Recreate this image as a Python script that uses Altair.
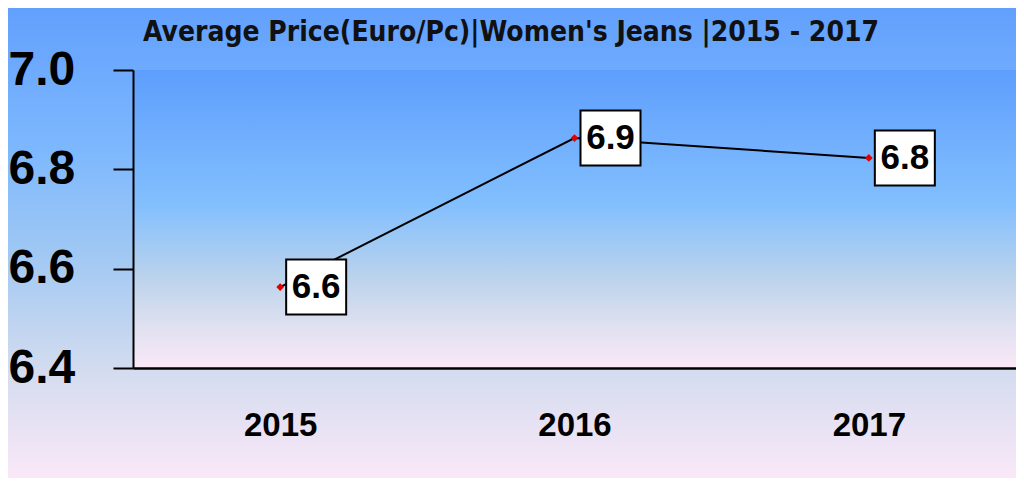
import altair as alt
import pandas as pd

# ---- data ----
years = ["2015", "2016", "2017"]
prices = [6.563, 6.863, 6.823]
y_ticks = [6.4, 6.6, 6.8, 7.0]
title_text = "Average Price(Euro/Pc)|Women's Jeans |2015 - 2017"

df = pd.DataFrame({"year": years, "price": prices})
one = pd.DataFrame({"k": [0]})

W, H = 883, 298
PAD_L, PAD_T, PAD_R, PAD_B = 125, 62, 0, 110

outer_grad = alt.LinearGradient(
    gradient="linear", x1=0, y1=0, x2=0, y2=1,
    stops=[
        alt.GradientStop(offset=0.0, color="#62a0fd"),
        alt.GradientStop(offset=0.3, color="#7db8fe"),
        alt.GradientStop(offset=0.5, color="#9cc6f4"),
        alt.GradientStop(offset=0.77, color="#d3dcef"),
        alt.GradientStop(offset=1.0, color="#fae8f8"),
    ],
)
inner_grad = alt.LinearGradient(
    gradient="linear", x1=0, y1=0, x2=0, y2=1,
    stops=[
        alt.GradientStop(offset=0.0, color="#5e9efd"),
        alt.GradientStop(offset=0.45, color="#82bffe"),
        alt.GradientStop(offset=0.7, color="#bcd3ec"),
        alt.GradientStop(offset=0.85, color="#dde0f0"),
        alt.GradientStop(offset=1.0, color="#fbe8f7"),
    ],
)

NUM_FONT = "Liberation Sans"
TITLE_FONT = "Liberation Sans Narrow, DejaVu Sans Condensed, sans-serif"

x_enc = alt.X(
    "year:O",
    scale=alt.Scale(type="point", padding=0.5),
    axis=alt.Axis(
        title=None, labelAngle=0, ticks=False, domainColor="black", domainWidth=2.5,
        labelFont=NUM_FONT, labelFontSize=33, labelFontWeight="bold", labelColor="black",
        labelPadding=57, labelBaseline="middle", zindex=1, grid=False,
    ),
)
y_enc = alt.Y(
    "price:Q",
    scale=alt.Scale(domain=[6.4, 7.0], nice=False, zero=False),
    axis=alt.Axis(
        title=None, values=y_ticks, format=".1f", grid=False,
        domainColor="black", domainWidth=2, tickColor="black", tickWidth=2, tickSize=20,
        labelFont=NUM_FONT, labelFontSize=48, labelFontWeight="bold", labelColor="black",
        labelAlign="left", labelPadding=105, labelBaseline="middle", zindex=1,
    ),
)

outer_bg = alt.Chart(one).mark_rect(color=outer_grad, clip=False).encode(
    x=alt.value(-PAD_L), x2=alt.value(W + PAD_R + 10),
    y=alt.value(-PAD_T), y2=alt.value(H + PAD_B),
)
inner_bg = alt.Chart(one).mark_rect(color=inner_grad, clip=False).encode(
    x=alt.value(0), x2=alt.value(W + PAD_R + 10),
    y=alt.value(0), y2=alt.value(H),
)

base = alt.Chart(df).encode(x=x_enc, y=y_enc)
line = base.mark_line(color="black", strokeWidth=2)
pts = base.mark_point(shape="diamond", filled=True, color="#e00000", size=60, opacity=1)
boxes = base.mark_rect(width=60, height=55, xOffset=36, fill="white", stroke="black", strokeWidth=2)
labels = base.mark_text(
    dx=36, font=NUM_FONT, fontSize=35, fontWeight="bold", color="black", baseline="middle"
).encode(text=alt.Text("price:Q", format=".1f"))

title = alt.Chart(one).mark_text(
    font=TITLE_FONT, fontSize=28, fontWeight="bold", color="#111111",
    align="center", baseline="middle", clip=False,
).encode(x=alt.value(378), y=alt.value(-37), text=alt.value(title_text))

chart = alt.layer(outer_bg, inner_bg, line, boxes, pts, labels, title).properties(
    width=W, height=H,
    autosize=alt.AutoSizeParams(type="none"),
    padding={"left": PAD_L, "top": PAD_T, "right": PAD_R, "bottom": PAD_B},
).configure_view(stroke=None)

chart.save("out.html", embed_options={"renderer": "svg", "actions": False})
